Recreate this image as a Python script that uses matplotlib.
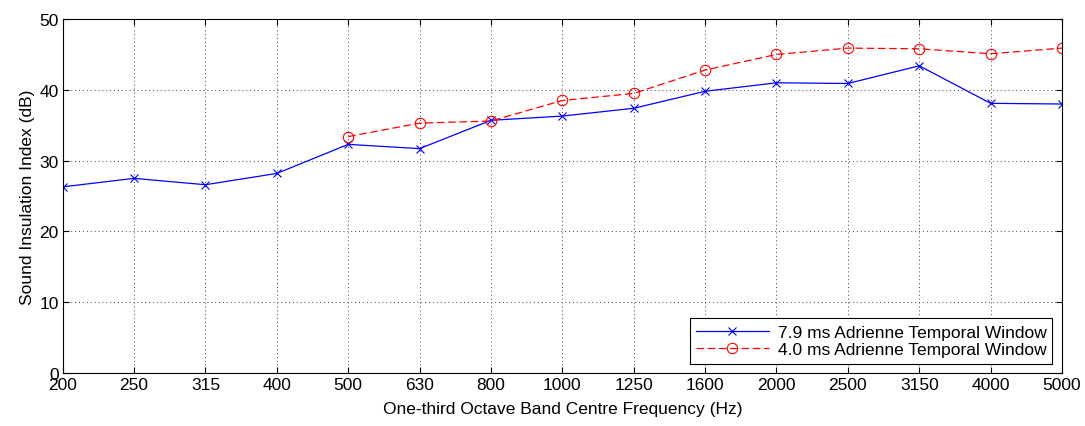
import matplotlib
matplotlib.use("Agg")
import matplotlib.pyplot as plt

freqs = ["200", "250", "315", "400", "500", "630", "800", "1000", "1250",
         "1600", "2000", "2500", "3150", "4000", "5000"]
win79 = [26.3, 27.5, 26.6, 28.2, 32.3, 31.7, 35.7, 36.3, 37.4,
         39.8, 41.0, 40.9, 43.4, 38.1, 38.0]
freqs40 = ["500", "630", "800", "1000", "1250", "1600", "2000", "2500",
           "3150", "4000", "5000"]
win40 = [33.4, 35.3, 35.6, 38.5, 39.5, 42.8, 45.0, 45.9, 45.8, 45.1, 45.9]

plt.rcParams['font.family'] = ['Liberation Sans', 'DejaVu Sans']
fig = plt.figure(figsize=(10.85, 4.27), dpi=100)
ax = fig.add_axes([0.0578, 0.124, 0.9210, 0.829])

x = list(range(len(freqs)))
x40 = [freqs.index(f) for f in freqs40]
ax.plot(x, win79, color='#0000ff', lw=0.9, marker='x', ms=6, mew=0.8,
        label='7.9 ms Adrienne Temporal Window')
ax.plot(x40, win40, color='#ff0000', lw=0.9, ls=(0, (6, 3)), marker='o', ms=7.5,
        mfc='none', mew=0.8, label='4.0 ms Adrienne Temporal Window')

ax.set_xlim(0, len(freqs) - 1)
ax.set_ylim(0, 50)
ax.set_xticks(x)
ax.set_xticklabels(freqs)
ax.set_yticks(range(0, 51, 10))
ax.tick_params(direction='in', top=True, right=True, labelsize=12.5, length=4,
               pad=3)
ax.grid(True, ls=(0, (1, 3)), color='#404040', lw=0.7)
for s in ax.spines.values():
    s.set_linewidth(0.8)
ax.set_xlabel('One-third Octave Band Centre Frequency (Hz)', fontsize=12.5, labelpad=6)
ax.set_ylabel('Sound Insulation Index (dB)', fontsize=12.5, labelpad=3)
leg = ax.legend(loc='lower right', fontsize=12.5, fancybox=False, framealpha=1,
                edgecolor='black', borderaxespad=0.55, handlelength=4.2,
                borderpad=0.35, labelspacing=0.15, handletextpad=0.5)
leg.get_frame().set_linewidth(0.8)
fig.savefig('out.png', dpi=100)
